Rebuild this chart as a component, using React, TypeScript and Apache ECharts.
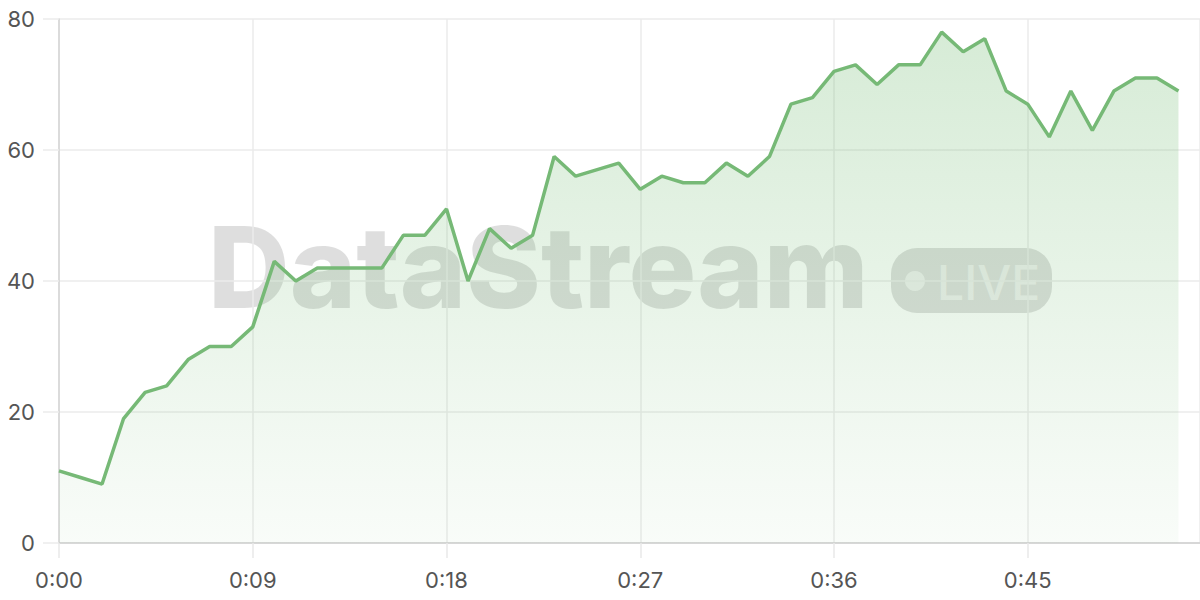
import { useEffect, useRef } from "react";
import * as echarts from "echarts";

// one reading per second, from 0:00 to 0:52
const SECONDS = [
  0, 1, 2, 3, 4, 5, 6, 7, 8, 9, 10, 11, 12, 13, 14, 15, 16, 17, 18, 19, 20,
  21, 22, 23, 24, 25, 26, 27, 28, 29, 30, 31, 32, 33, 34, 35, 36, 37, 38, 39,
  40, 41, 42, 43, 44, 45, 46, 47, 48, 49, 50, 51, 52,
];

const VALUES = [
  11, 10, 9, 19, 23, 24, 28, 30, 30, 33, 43, 40, 42, 42, 42, 42, 47, 47, 51,
  40, 48, 45, 47, 59, 56, 57, 58, 54, 56, 55, 55, 58, 56, 59, 67, 68, 72, 73,
  70, 73, 73, 78, 75, 77, 69, 67, 62, 69, 63, 69, 71, 71, 69,
];

const X_MAX = 53;
const X_STEP = 9;
const Y_MAX = 80;
const Y_STEP = 20;

const LINE_COLOR = "#76b976";
const FONT = "Inter, 'Noto Sans', sans-serif";

function formatTime(sec: number): string {
  const m = Math.floor(sec / 60);
  const s = sec % 60;
  return `${m}:${String(s).padStart(2, "0")}`;
}

export default function App() {
  const containerRef = useRef<HTMLDivElement | null>(null);

  useEffect(() => {
    const container = containerRef.current;

    if (!container) {
      return;
    }

    const chart = echarts.init(container, undefined, { renderer: "svg" });

    const points = SECONDS.map((sec, i) => [sec, VALUES[i]]);

    chart.setOption({
      animation: false,
      backgroundColor: "#ffffff",
      textStyle: { fontFamily: FONT },
      grid: { left: 59, right: 0, top: 19, bottom: 57 },
      graphic: [
        {
          type: "text",
          z: -10,
          left: 208,
          top: 210,
          style: {
            text: "DataStream",
            font: `800 113px ${FONT}`,
            fill: "rgba(0, 0, 0, 0.13)",
          },
        },
        {
          type: "rect",
          z: -10,
          shape: { x: 891, y: 248, width: 161, height: 65, r: 26 },
          style: { fill: "rgba(0, 0, 0, 0.13)" },
        },
        {
          type: "circle",
          z: -9,
          shape: { cx: 915, cy: 281, r: 10 },
          style: { fill: "rgba(255, 255, 255, 0.55)" },
        },
        {
          type: "text",
          z: -9,
          x: 937,
          y: 282,
          style: {
            text: "LIVE",
            font: `500 48px ${FONT}`,
            fill: "rgba(255, 255, 255, 0.55)",
            verticalAlign: "middle",
          },
        },
      ],
      xAxis: {
        type: "value",
        min: 0,
        max: X_MAX,
        interval: X_STEP,
        axisLine: { show: true, lineStyle: { color: "#cfcfcf", width: 1.5 } },
        axisTick: {
          show: true,
          length: 15,
          lineStyle: { color: "#e8e8e8", width: 1.5 },
        },
        splitLine: { show: true, lineStyle: { color: "#ebebeb", width: 1.5 } },
        axisLabel: {
          color: "#555555",
          fontSize: 22,
          margin: 26,
          showMaxLabel: false,
          formatter: (v: number) => (v % X_STEP === 0 ? formatTime(v) : ""),
        },
      },
      yAxis: {
        type: "value",
        min: 0,
        max: Y_MAX,
        interval: Y_STEP,
        axisLine: { show: true, lineStyle: { color: "#d4d4d4", width: 1.5 } },
        axisTick: {
          show: true,
          length: 16,
          lineStyle: { color: "#ebebeb", width: 1.5 },
        },
        splitLine: { show: true, lineStyle: { color: "#ebebeb", width: 1.5 } },
        axisLabel: {
          color: "#555555",
          fontSize: 22,
          margin: 24,
        },
      },
      series: [
        {
          type: "line",
          data: points,
          showSymbol: false,
          lineStyle: { color: LINE_COLOR, width: 3.5 },
          itemStyle: { color: LINE_COLOR },
          areaStyle: {
            color: new echarts.graphic.LinearGradient(0, 0, 0, 1, [
              { offset: 0, color: "rgba(110, 185, 110, 0.4)" },
              { offset: 1, color: "rgba(110, 185, 110, 0.06)" },
            ]),
          },
        },
      ],
    });

    return () => {
      chart.dispose();
    };
  }, []);

  return (
    <div
      ref={containerRef}
      style={{ position: "fixed", left: 0, top: 0, width: 1200, height: 600 }}
    />
  );
}
